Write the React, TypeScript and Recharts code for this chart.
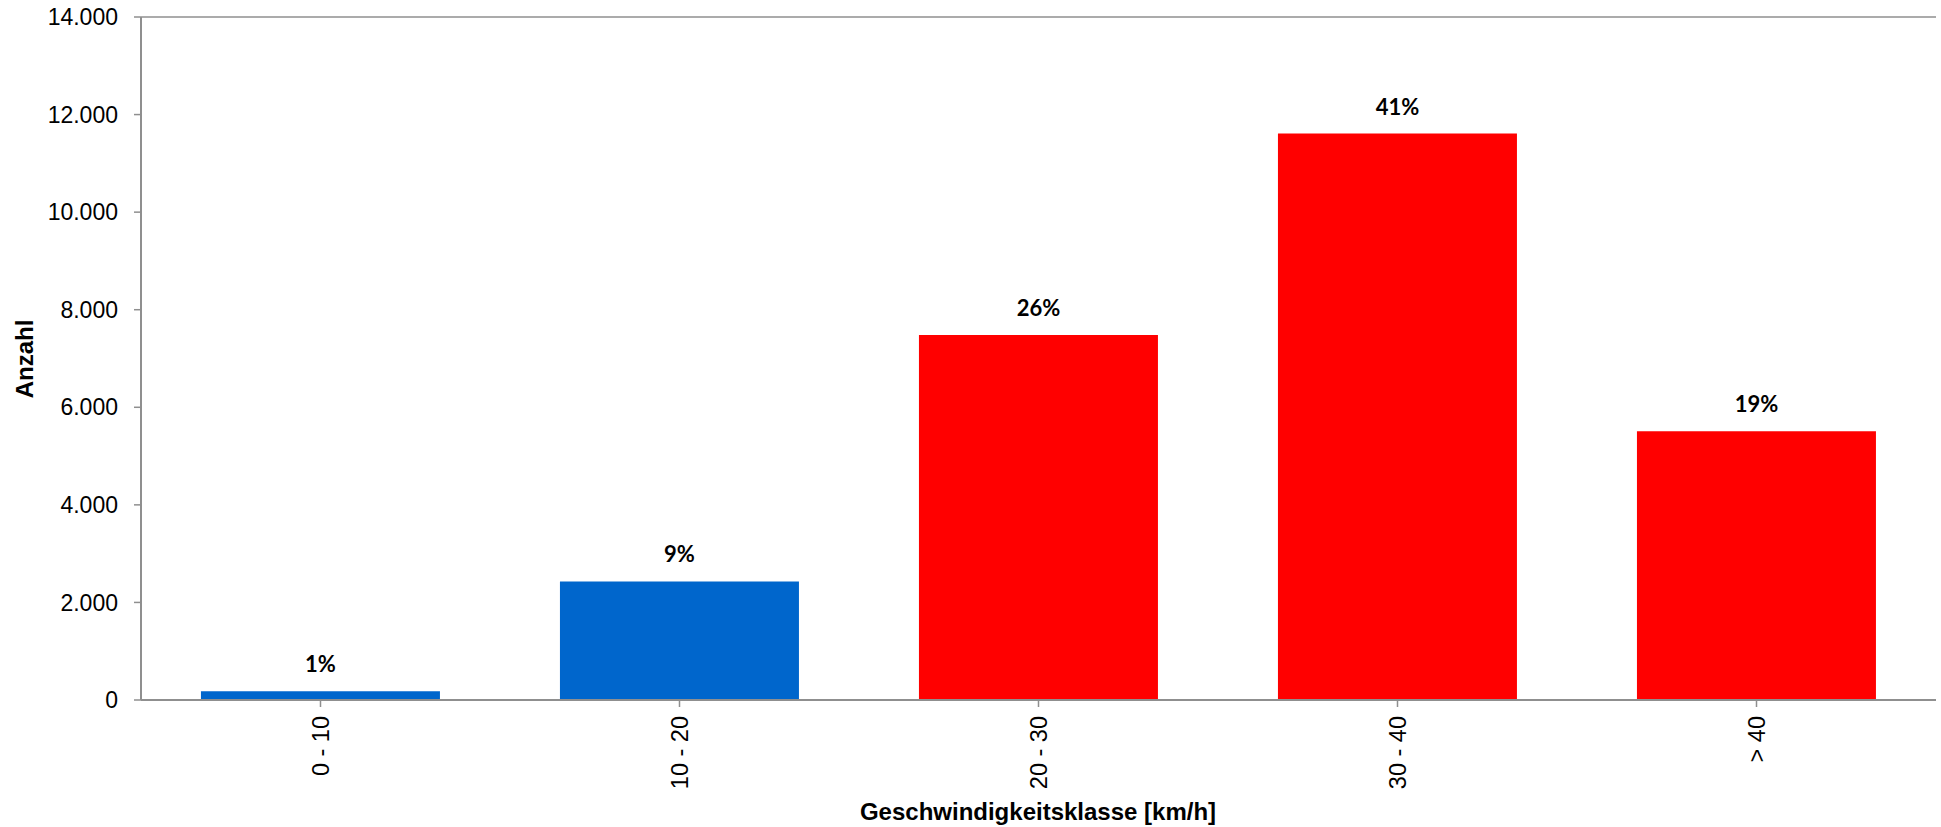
import { BarChart, Bar, XAxis, YAxis, CartesianGrid, Cell, LabelList, Label } from "recharts"

const categories = ["0 - 10", "10 - 20", "20 - 30", "30 - 40", "> 40"]
const counts = [180, 2430, 7480, 11610, 5510]
const shares = ["1%", "9%", "26%", "41%", "19%"]
const barColors = ["#0066cc", "#0066cc", "#ff0000", "#ff0000", "#ff0000"]
const yTicks = [0, 2000, 4000, 6000, 8000, 10000, 12000, 14000]

const data = categories.map((klasse, i) => ({
  klasse,
  anzahl: counts[i],
  anteil: shares[i],
}))

const axisGray = "#8f8f8f"
const axisFont = "'Liberation Sans', Arial, sans-serif"

// German thousands separator: 12000 -> 12.000
const fmt = (v: number) => String(v).replace(/\B(?=(\d{3})+(?!\d))/g, ".")

function XTick(props: any) {
  const { x, payload } = props
  return (
    <text
      x={x}
      y={716}
      transform={`rotate(-90, ${x}, 716)`}
      textAnchor="end"
      dy="0.35em"
      fontSize={23.5}
      fontFamily={axisFont}
      fill="#000"
    >
      {payload.value}
    </text>
  )
}

export default function App() {
  return (
    <div style={{ position: "absolute", left: 0, top: 0, background: "#fff" }}>
      <BarChart
        width={1941}
        height={827}
        data={data}
        margin={{ top: 17, right: 5, bottom: 0, left: 0 }}
        barCategoryGap="16.7%"
      >
        <CartesianGrid vertical={false} stroke={axisGray} strokeWidth={1.5} />
        <XAxis
          dataKey="klasse"
          height={127}
          interval={0}
          tickSize={7}
          axisLine={{ stroke: axisGray, strokeWidth: 2 }}
          tickLine={{ stroke: axisGray, strokeWidth: 1.5 }}
          tick={<XTick />}
        >
          <Label
            content={() => (
              <text
                x={1038}
                y={820}
                textAnchor="middle"
                fontSize={24}
                fontWeight="bold"
                fontFamily={axisFont}
                fill="#000"
              >
                Geschwindigkeitsklasse [km/h]
              </text>
            )}
          />
        </XAxis>
        <YAxis
          yAxisId="left"
          width={141}
          domain={[0, 14000]}
          ticks={yTicks}
          interval={0}
          tickSize={7}
          tickMargin={16}
          tickFormatter={fmt}
          axisLine={{ stroke: axisGray, strokeWidth: 2 }}
          tickLine={{ stroke: axisGray, strokeWidth: 1.5 }}
          tick={{ fontSize: 23, fontFamily: axisFont, fill: "#000" }}
        >
          <Label
            content={() => (
              <text
                x={25}
                y={359}
                transform="rotate(-90, 25, 359)"
                textAnchor="middle"
                dy="0.35em"
                fontSize={24}
                fontWeight="bold"
                fontFamily={axisFont}
                fill="#000"
              >
                Anzahl
              </text>
            )}
          />
        </YAxis>
        {/* right border of the plot area */}
        <YAxis
          yAxisId="right"
          orientation="right"
          width={0}
          domain={[0, 14000]}
          tick={false}
          tickLine={false}
          axisLine={{ stroke: axisGray, strokeWidth: 2 }}
        />
        <Bar yAxisId="left" dataKey="anzahl" isAnimationActive={false}>
          {data.map((d, i) => (
            <Cell key={`cell-${d.klasse}`} fill={barColors[i]} />
          ))}
          <LabelList
            dataKey="anteil"
            position="top"
            offset={19}
            style={{ fontSize: 22, fontWeight: "bold", fontFamily: "Lato, 'Open Sans', sans-serif", fill: "#000" }}
          />
        </Bar>
      </BarChart>
    </div>
  )
}
